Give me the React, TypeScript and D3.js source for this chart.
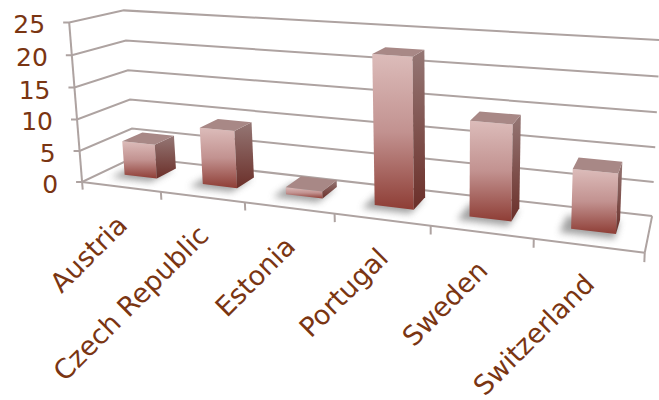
import React from 'react';
import * as d3 from 'd3';

const categories = ['Austria', 'Czech Republic', 'Estonia', 'Portugal', 'Sweden', 'Switzerland'];
const values = [5.5, 9.0, 1.1, 22.2, 13.8, 8.4];
const yTicks = [0, 5, 10, 15, 20, 25];

const W = 659;
const H = 400;

// perspective calibration: unit box corners (u, v, w) -> screen
const calibWorld: number[][] = [
  [0, 0, 0], [0, 1, 0], [0, 0, 1], [0, 1, 1], [1, 0, 1], [1, 1, 1], [1, 0, 0],
];
const calibScreen: number[][] = [
  [83, 182], [68, 23], [133, 157], [125, 10], [652, 217], [660, 40], [645, 252],
];

function solveLinear(A: number[][], b: number[]): number[] {
  const n = b.length;
  const M = A.map((r, i) => [...r, b[i]]);
  for (let c = 0; c < n; c++) {
    let p = c;
    for (let r = c + 1; r < n; r++) if (Math.abs(M[r][c]) > Math.abs(M[p][c])) p = r;
    [M[c], M[p]] = [M[p], M[c]];
    for (let r = 0; r < n; r++) {
      if (r === c) continue;
      const f = M[r][c] / M[c][c];
      for (let k = c; k <= n; k++) M[r][k] -= f * M[c][k];
    }
  }
  return M.map((r, i) => r[n] / r[i]);
}

function fitProjection(world: number[][], img: number[][]) {
  const rows: number[][] = [];
  const rhs: number[] = [];
  world.forEach(([X, Y, Z], i) => {
    const [x, y] = img[i];
    rows.push([X, Y, Z, 1, 0, 0, 0, 0, -x * X, -x * Y, -x * Z]);
    rhs.push(x);
    rows.push([0, 0, 0, 0, X, Y, Z, 1, -y * X, -y * Y, -y * Z]);
    rhs.push(y);
  });
  const AtA = Array.from({ length: 11 }, (_, i) =>
    Array.from({ length: 11 }, (_, j) => rows.reduce((s, r) => s + r[i] * r[j], 0)));
  const Atb = Array.from({ length: 11 }, (_, i) => rows.reduce((s, r, k) => s + r[i] * rhs[k], 0));
  return solveLinear(AtA, Atb);
}

const P = fitProjection(calibWorld, calibScreen);
function proj(u: number, v: number, w: number): [number, number] {
  const d = P[8] * u + P[9] * v + P[10] * w + 1;
  return [
    (P[0] * u + P[1] * v + P[2] * w + P[3]) / d,
    (P[4] * u + P[5] * v + P[6] * w + P[7]) / d,
  ];
}

const xBand = d3.scaleBand<string>().domain(categories).range([0, 1]).paddingInner(0.58).paddingOuter(0.29);
const yScale = d3.scaleLinear().domain([0, 25]).range([0, 1]);
const W0 = 0.38;
const W1 = 0.78;

const poly = (pts: [number, number][]) => 'M' + pts.map((p) => p.join(',')).join('L') + 'Z';
const line = (a: [number, number], b: [number, number]) => ({ x1: a[0], y1: a[1], x2: b[0], y2: b[1] });

const GRID = '#aea3a1';
const TEXT = '#7a3512';

export default function App() {
  return (
    <svg width={W} height={H} style={{ position: 'absolute', left: 0, top: 0 }}>
      <defs>
        <linearGradient id="front" x1="0" y1="0" x2="0" y2="1">
          <stop offset="0" stopColor="#dcbcba" />
          <stop offset="0.5" stopColor="#c29290" />
          <stop offset="1" stopColor="#8e3d35" />
        </linearGradient>
        <linearGradient id="side" x1="0" y1="0" x2="0" y2="1">
          <stop offset="0" stopColor="#957775" />
          <stop offset="1" stopColor="#6b2f29" />
        </linearGradient>
        <filter id="blur" x="-50%" y="-50%" width="200%" height="200%">
          <feGaussianBlur stdDeviation="3.5" />
        </filter>
      </defs>
      <g fill="none" stroke={GRID} strokeWidth={2}>
        {yTicks.map((t) => {
          const v = yScale(t);
          const a = proj(0, v, 0);
          const b = proj(0, v, 1);
          const c = proj(1, v, 1);
          return <path key={t} d={`M${a[0] - 6},${a[1]}L${a.join(',')}L${b.join(',')}L${c.join(',')}`} />;
        })}
        <line {...line(proj(0, 0, 0), proj(0, 1, 0))} />
        <line {...line(proj(0, 0, 0), proj(1, 0, 0))} />
        <line {...line(proj(1, 0, 0), proj(1, 0, 1))} />
        {d3.range(categories.length + 1).map((k) => (
          <line key={k} {...line(proj(k / categories.length, 0, 0), proj(k / categories.length, -0.05, 0))} />
        ))}
      </g>
      {categories.map((c) => {
        const uL = xBand(c)!;
        const uR = uL + xBand.bandwidth();
        return (
          <path key={'s' + c} filter="url(#blur)" fill="#8a8a8a" opacity={0.8}
            d={poly([proj(uL - 0.015, 0, W0 - 0.13), proj(uR, 0, W0 - 0.13), proj(uR, 0, W1 - 0.05), proj(uL - 0.015, 0, W1 - 0.05)])} />
        );
      })}
      {categories.map((c, i) => {
        const uL = xBand(c)!;
        const uR = uL + xBand.bandwidth();
        const v = yScale(values[i]);
        return (
          <g key={c}>
            <path fill="url(#front)" d={poly([proj(uL, v, W0), proj(uR, v, W0), proj(uR, 0, W0), proj(uL, 0, W0)])} />
            <path fill="url(#side)" d={poly([proj(uR, v, W0), proj(uR, v, W1), proj(uR, 0, W1), proj(uR, 0, W0)])} />
            <path fill="#a88886" d={poly([proj(uL, v, W0), proj(uR, v, W0), proj(uR, v, W1), proj(uL, v, W1)])} />
          </g>
        );
      })}
      <g fill={TEXT} fontFamily="DejaVu Sans, Verdana, sans-serif">
        {yTicks.map((t) => {
          const p = proj(0, yScale(t), 0);
          return <text key={t} x={p[0] - 24} y={p[1] + 11} textAnchor="end" fontSize={25}>{t}</text>;
        })}
        {categories.map((c) => {
          const p = proj(xBand(c)! + xBand.bandwidth() / 2, 0, 0);
          const x = p[0] + 8;
          const y = p[1] + 40;
          return <text key={c} x={x} y={y} textAnchor="end" fontSize={27} transform={`rotate(-45 ${x} ${y})`}>{c}</text>;
        })}
      </g>
    </svg>
  );
}
